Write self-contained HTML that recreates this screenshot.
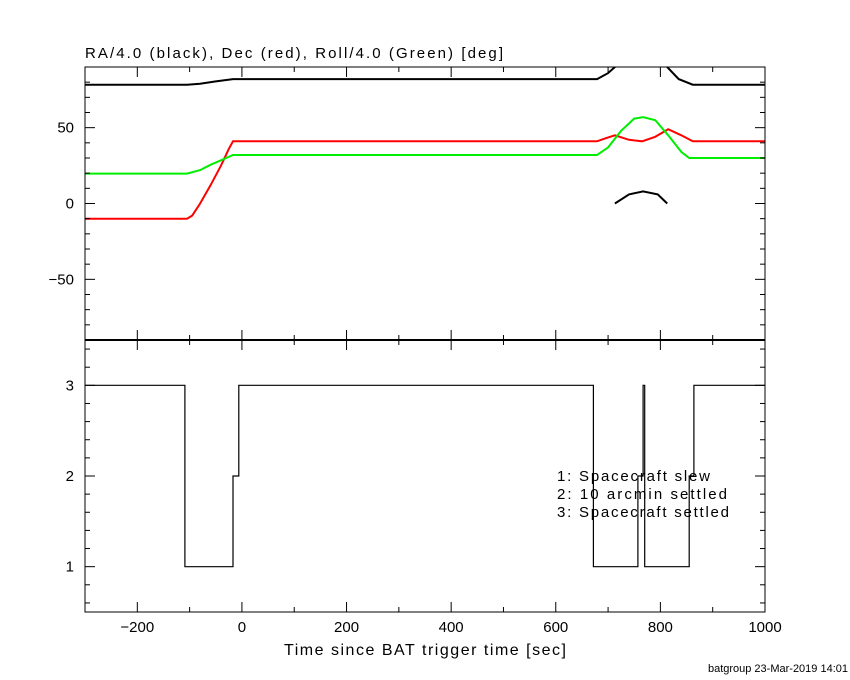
<!DOCTYPE html>
<html><head><meta charset="utf-8"><style>
html,body{margin:0;padding:0;background:#fff;}
svg{display:block;font-family:"Liberation Sans",sans-serif;}
</style></head><body>
<svg id="chart" width="850" height="680" viewBox="0 0 850 680" xmlns="http://www.w3.org/2000/svg">
<rect x="0" y="0" width="850" height="680" fill="#fff"/>
<text x="85" y="58" font-size="15" textLength="418" fill="#000">RA/4.0 (black), Dec (red), Roll/4.0 (Green) [deg]</text>
<text x="425" y="655" font-size="16" text-anchor="middle" textLength="282" fill="#000">Time since BAT trigger time [sec]</text>
<text x="848" y="672" font-size="11" text-anchor="end" fill="#000">batgroup 23-Mar-2019 14:01</text>
<g font-size="15" fill="#000">
<text x="557" y="481" textLength="153">1: Spacecraft slew</text>
<text x="557" y="499" textLength="170">2: 10 arcmin settled</text>
<text x="557" y="517" textLength="172">3: Spacecraft settled</text>
</g>
<defs><clipPath id="topclip"><rect x="85" y="67" width="680" height="273"/></clipPath></defs>
<g id="topPanel" clip-path="url(#topclip)"></g>
<g id="botPanel"></g>
<g id="axes"></g>
</svg>
<script>
// Data
const raTimes = [-300,-105,-80,-50,-17,679,700,713,740,767,795,813,835,862,1000];
const raValues = [78.3,78.3,79,80.5,82,82,86,90,96,98,96,90,82,78.3,78.3];
const decTimes = [-300,-105,-95,-80,-60,-40,-25,-17,679,695,713,740,765,790,815,840,862,1000];
const decValues = [-10,-10,-8,0,12,25,36,41,41,43,45,42,41,44,49,45,41,41];
const rollTimes = [-300,-105,-80,-60,-40,-17,679,700,725,750,767,790,815,840,855,1000];
const rollValues = [19.7,19.7,22,25.5,28.5,32,32,37,48,56,57,55,45,34,30,30];
const stateTimes = [-300,-109,-17,-6,672,757,767,770,855,864,1000];
const stateValues = [3,1,2,3,1,2,3,1,2,3,3];
const xTicks = [-200,0,200,400,600,800,1000];
const topYTicks = [-50,0,50];
const botYTicks = [1,2,3];

const NS="http://www.w3.org/2000/svg";
const X0=85,X1=765,TT=67,TB=340,BT=340,BB=612;
const xs=t=>X0+(t+300)/1300*(X1-X0);
const yTop=v=>TB-(v+90)/180*(TB-TT);
const yBot=v=>BB-(v-0.5)/3*(BB-BT);
function mk(tag,attrs,parent){const e=document.createElementNS(NS,tag);for(const k in attrs)e.setAttribute(k,attrs[k]);parent.appendChild(e);return e;}
const topG=document.getElementById('topPanel'),botG=document.getElementById('botPanel'),axes=document.getElementById('axes');

function line(ts,vs,color,name){
  const pts=ts.map((t,i)=>xs(t).toFixed(1)+','+yTop(vs[i]).toFixed(1)).join(' ');
  const p=mk('polyline',{points:pts,fill:'none',stroke:color,'stroke-width':2},topG);
  
  
}
line(decTimes,decValues,'#ff0000','dec-line');
line(rollTimes,rollValues,'#00ee00','roll-line');
line(raTimes,raValues,'#000','ra-line');
const wt=[],wv=[];
raTimes.forEach((t,i)=>{if(raValues[i]>=90){wt.push(t);wv.push(raValues[i]-90);}});
if(wt.length>1){
  const pts=wt.map((t,i)=>xs(t).toFixed(1)+','+yTop(wv[i]).toFixed(1)).join(' ');
  const p=mk('polyline',{points:pts,fill:'none',stroke:'#000','stroke-width':2},topG);
  
  
}
let d='';
stateTimes.forEach((t,i)=>{
  if(i===0)d+='M'+xs(t)+','+yBot(stateValues[i]);
  else d+='H'+xs(t).toFixed(1)+'V'+yBot(stateValues[i]).toFixed(1);
});
const sp=mk('path',{d:d,fill:'none',stroke:'#000','stroke-width':1.2},botG);



const f1=mk('rect',{x:X0,y:TT,width:X1-X0,height:TB-TT,fill:'none',stroke:'#000','stroke-width':1},axes);


const f2=mk('rect',{x:X0,y:BT,width:X1-X0,height:BB-BT,fill:'none',stroke:'#000','stroke-width':1},axes);


const dv=mk('line',{x1:X0,x2:X1,y1:TB,y2:TB,stroke:'#000','stroke-width':2},axes);



for(let t=-300;t<=1000;t+=100){
  const major=(t%200===0);const L=major?10:5;const x=xs(t);
  [[TT,1],[TB,-1],[BT,1],[BB,-1]].forEach(([y,s])=>{
    const tk=mk('line',{x1:x,x2:x,y1:y,y2:y+s*L,stroke:'#000','stroke-width':1},axes);
    
    
  });
}
xTicks.forEach(t=>{
  const lb=mk('text',{x:xs(t),y:632,'font-size':15,'text-anchor':'middle',fill:'#000'},axes);
  lb.textContent=(t<0?'\u2212'+(-t):String(t));
  
  
});
for(let v=-80;v<=90;v+=10){
  const major=(v%50===0);const L=major?10:5;const y=yTop(v);
  [[X0,1],[X1,-1]].forEach(([x,s])=>{
    const tk=mk('line',{x1:x,x2:x+s*L,y1:y,y2:y,stroke:'#000','stroke-width':1},axes);
    
    
  });
}
topYTicks.forEach(v=>{
  const lb=mk('text',{x:74,y:yTop(v)+5,'font-size':15,'text-anchor':'end',fill:'#000'},axes);
  lb.textContent=(v<0?'\u2212'+(-v):String(v));
  
  
});
for(let k=3;k<=17;k++){
  const v=k/5;const major=(k%5===0);const L=major?10:5;const y=yBot(v);
  [[X0,1],[X1,-1]].forEach(([x,s])=>{
    const tk=mk('line',{x1:x,x2:x+s*L,y1:y,y2:y,stroke:'#000','stroke-width':1},axes);
    
    
  });
}
botYTicks.forEach(v=>{
  const lb=mk('text',{x:74,y:yBot(v)+5,'font-size':15,'text-anchor':'end',fill:'#000'},axes);
  lb.textContent=String(v);
  
  
});
</script>
</body></html>
